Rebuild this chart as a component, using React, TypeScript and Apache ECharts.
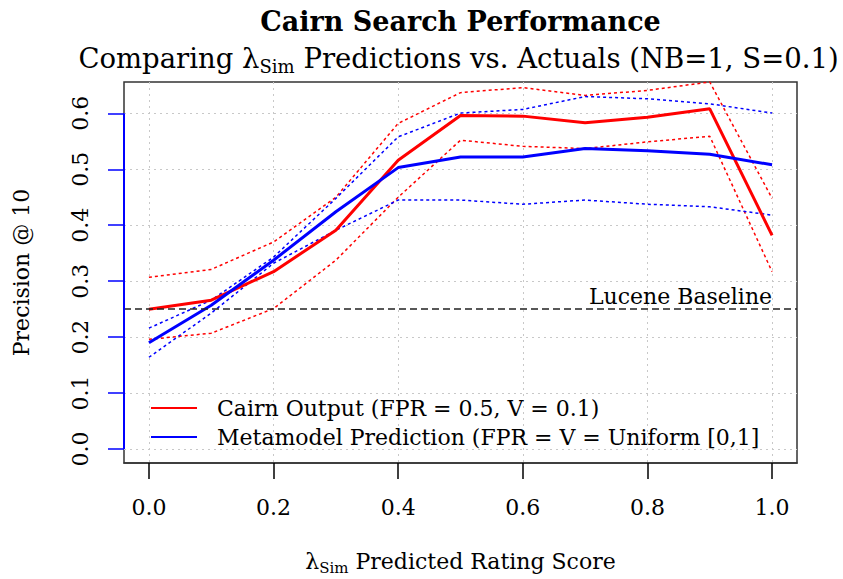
import React, { useEffect, useRef } from "react";
import * as echarts from "echarts";

const xValues = [0.0, 0.1, 0.2, 0.3, 0.4, 0.5, 0.6, 0.7, 0.8, 0.9, 1.0];
const cairnOutput = [0.25, 0.266, 0.317, 0.391, 0.516, 0.596, 0.595, 0.583, 0.593, 0.608, 0.382];
const cairnUpper = [0.307, 0.321, 0.37, 0.45, 0.582, 0.637, 0.646, 0.632, 0.641, 0.656, 0.448];
const cairnLower = [0.196, 0.207, 0.251, 0.3375, 0.45, 0.552, 0.541, 0.537, 0.549, 0.559, 0.317];
const metaPred = [0.19, 0.257, 0.3375, 0.424, 0.503, 0.522, 0.522, 0.537, 0.533, 0.527, 0.508];
const metaUpper = [0.216, 0.266, 0.343, 0.448, 0.558, 0.6005, 0.607, 0.63, 0.626, 0.617, 0.6005];
const metaLower = [0.164, 0.243, 0.332, 0.391, 0.445, 0.445, 0.4375, 0.445, 0.4375, 0.433, 0.418];
const baseline = 0.25;
const xTicks = [0, 0.2, 0.4, 0.6, 0.8, 1.0];
const yTicks = [0, 0.1, 0.2, 0.3, 0.4, 0.5, 0.6];

const cairnName = "Cairn Output (FPR = 0.5, V = 0.1)";
const metaName = "Metamodel Prediction (FPR = V = Uniform [0,1]";

const FONT = '"DejaVu Serif", serif';

const zip = (ys: number[]) => xValues.map((x, i) => [x, ys[i]]);

export default function App() {
  const ref = useRef<HTMLDivElement>(null);
  useEffect(() => {
    if (!ref.current) return;
    document.body.style.margin = "0";
    const chart = echarts.init(ref.current, null, { renderer: "svg" });
    const dotted = (name: string, data: number[], color: string) => ({
      name,
      type: "line",
      data: zip(data),
      symbol: "none",
      clip: false,
      silent: true,
      lineStyle: { color, width: 1.5, type: [3, 3] },
      z: 2,
    });
    const solid = (name: string, data: number[], color: string) => ({
      name,
      type: "line",
      data: zip(data),
      symbol: "none",
      clip: false,
      lineStyle: { color, width: 3 },
      itemStyle: { color },
      z: 3,
    });
    chart.setOption({
      animation: false,
      backgroundColor: "#fff",
      grid: {
        left: 124,
        right: 46,
        top: 82,
        bottom: 116,
        show: true,
        borderColor: "#333",
        borderWidth: 1.5,
        containLabel: false,
      },
      xAxis: {
        type: "value",
        min: -0.04,
        max: 1.04,
        axisLine: { show: true, onZero: false, lineStyle: { color: "#333", width: 1.5 } },
        axisTick: {
          show: true,
          customValues: xTicks,
          length: 16,
          lineStyle: { color: "#000", width: 1.5 },
        },
        axisLabel: {
          customValues: xTicks,
          formatter: (v: number) => v.toFixed(1),
          margin: 33,
          fontSize: 22,
          fontFamily: FONT,
          color: "#000",
        },
        splitLine: {
          show: true,
          lineStyle: { color: "#c8c8c8", width: 1, type: [2, 4] },
        },
      },
      yAxis: {
        type: "value",
        min: -0.025,
        max: 0.656,
        axisLine: { show: false, onZero: false },
        axisTick: {
          show: true,
          customValues: yTicks,
          length: 16,
          lineStyle: { color: "#0000ff", width: 1.5 },
        },
        axisLabel: {
          customValues: yTicks,
          formatter: (v: number) => v.toFixed(1),
          rotate: 90,
          margin: 33,
          fontSize: 22,
          fontFamily: FONT,
          color: "#000",
        },
        splitLine: {
          show: true,
          lineStyle: { color: "#c8c8c8", width: 1, type: [2, 4] },
        },
      },
      legend: {
        data: [cairnName, metaName],
        orient: "vertical",
        left: 146,
        top: 392,
        itemWidth: 46,
        itemHeight: 2,
        itemGap: 7,
        icon: "rect",
        textStyle: {
          fontSize: 22,
          fontFamily: FONT,
          color: "#000",
          lineHeight: 22,
          padding: [0, 0, 0, 15],
        },
        selectedMode: false,
      },
      series: [
        dotted("cairnUpper", cairnUpper, "#ff0000"),
        dotted("cairnLower", cairnLower, "#ff0000"),
        dotted("metaUpper", metaUpper, "#0000ff"),
        dotted("metaLower", metaLower, "#0000ff"),
        {
          ...solid(cairnName, cairnOutput, "#ff0000"),
          markLine: {
            silent: true,
            symbol: "none",
            label: { show: false },
            lineStyle: { color: "#222", width: 1.5, type: [7, 4] },
            data: [{ yAxis: baseline }],
          },
        },
        solid(metaName, metaPred, "#0000ff"),
      ],
    });

    const p0 = chart.convertToPixel({ gridIndex: 0 }, [-0.04, 0]) as number[];
    const p6 = chart.convertToPixel({ gridIndex: 0 }, [-0.04, 0.6]) as number[];
    const pb = chart.convertToPixel({ gridIndex: 0 }, [1.0, baseline]) as number[];
    const pc0 = chart.convertToPixel({ gridIndex: 0 }, [-0.04, -0.025]) as number[];
    const pc1 = chart.convertToPixel({ gridIndex: 0 }, [1.04, 0.656]) as number[];
    const cx = (pc0[0] + pc1[0]) / 2;
    const cy = (pc0[1] + pc1[1]) / 2;

    chart.setOption({
      graphic: [
        {
          type: "line",
          shape: { x1: p0[0], y1: p0[1], x2: p6[0], y2: p6[1] },
          style: { stroke: "#0000ff", lineWidth: 2 },
          z: 10,
        },
        {
          type: "text",
          x: cx,
          y: 21,
          style: {
            text: "Cairn Search Performance",
            font: `bold 27px ${FONT}`,
            fill: "#000",
            align: "center",
            verticalAlign: "middle",
          },
        },
        {
          type: "text",
          x: cx - 2,
          y: 58,
          style: {
            text: "{a|Comparing λ}{s|Sim}{a| Predictions vs. Actuals (NB=1, S=0.1)}",
            fill: "#000",
            align: "center",
            verticalAlign: "middle",
            rich: {
              a: { fontSize: 27.5, fontFamily: FONT, lineHeight: 34, verticalAlign: "middle", fill: "#000" },
              s: { fontSize: 18, fontFamily: FONT, lineHeight: 18, verticalAlign: "bottom", fill: "#000" },
            },
          },
        },
        {
          type: "text",
          x: cx,
          y: 561,
          style: {
            text: "{a|λ}{s|Sim}{a| Predicted Rating Score}",
            fill: "#000",
            align: "center",
            verticalAlign: "middle",
            rich: {
              a: { fontSize: 22, fontFamily: FONT, lineHeight: 28, verticalAlign: "middle", fill: "#000" },
              s: { fontSize: 15, fontFamily: FONT, lineHeight: 15, verticalAlign: "bottom", fill: "#000" },
            },
          },
        },
        {
          type: "text",
          x: 21,
          y: cy,
          rotation: Math.PI / 2,
          style: {
            text: "Precision @ 10",
            font: `22px ${FONT}`,
            fill: "#000",
            align: "center",
            verticalAlign: "middle",
          },
        },
        {
          type: "text",
          x: pb[0],
          y: pb[1] - 2,
          style: {
            text: "Lucene Baseline",
            font: `22px ${FONT}`,
            fill: "#000",
            align: "right",
            verticalAlign: "bottom",
          },
        },
      ],
    });

    return () => chart.dispose();
  }, []);
  return (
    <div
      ref={ref}
      style={{ width: 843, height: 579, position: "absolute", left: 0, top: 0 }}
    />
  );
}
